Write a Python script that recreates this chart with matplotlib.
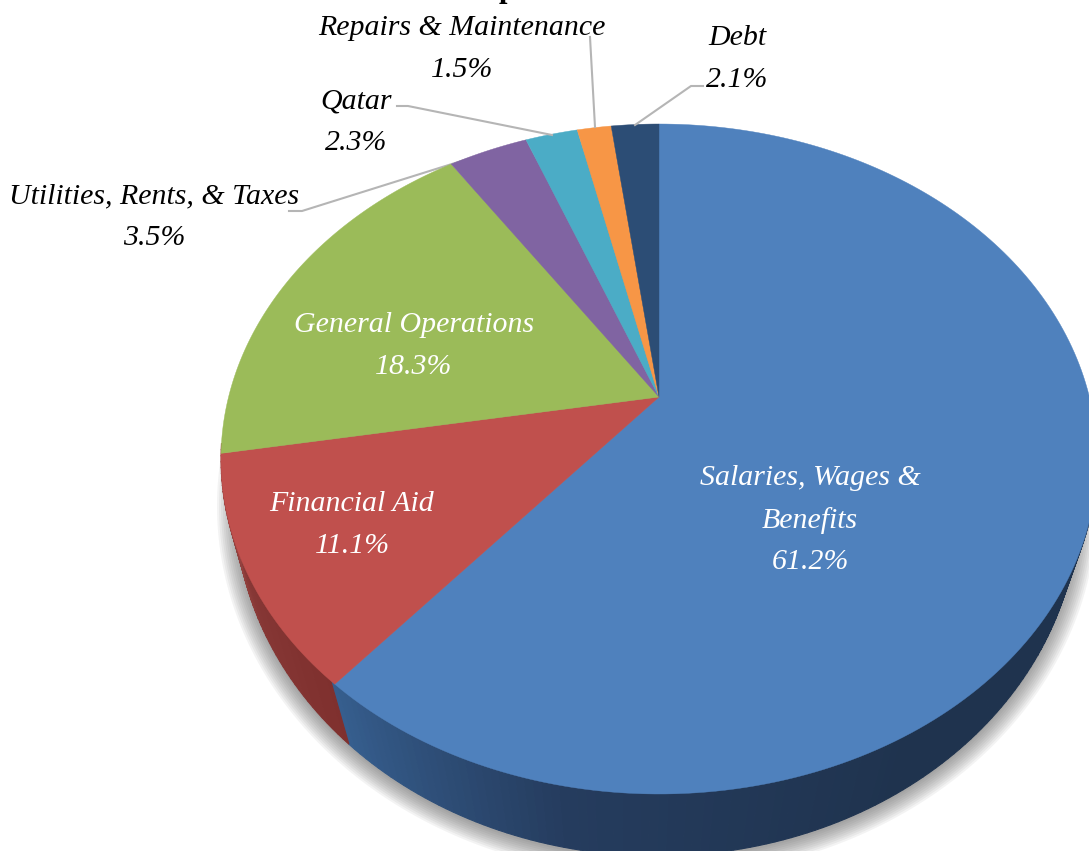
import matplotlib
matplotlib.use('Agg')
import matplotlib.pyplot as plt
import numpy as np
from matplotlib.patches import Polygon

categories = ['Salaries, Wages &\nBenefits', 'Financial Aid', 'General Operations',
              'Utilities, Rents, & Taxes', 'Qatar', 'Repairs & Maintenance', 'Debt']
shares = [61.2, 11.1, 18.3, 3.5, 2.3, 1.5, 2.1]
colors = ['#4F81BD', '#C0504D', '#9BBB59', '#8064A2', '#4BACC6', '#F79646', '#2C4D75']
label_colors = ['white', 'white', 'white', 'black', 'black', 'black', 'black']
label_pos = [(810, 520), (352, 525), (414, 346), (154, 217), (356, 122), (462, 49), (737, 59)]

# leader lines, label to slice
leaders = [None, None, None,
           [(289, 211), (302, 211), (522, 142)],
           [(397, 106), (408, 106), (552, 135)],
           [(590, 37), (595, 127)],
           [(703, 86), (691, 86), (635, 125)]]


def project(theta, cx, apex, top, bottom, rx):
    # perspective view of the unit circle, the apex is not the ellipse centre
    x = np.cos(np.radians(theta))
    t = -np.sin(np.radians(theta))
    k = -((bottom - apex) - (apex - top)) / ((bottom - apex) + (apex - top))
    a = (apex - top) * (1 - k)
    b = rx * np.sqrt(1 - k ** 2)
    d = 1 + k * t
    return cx + b * x / d, apex + a * t / d


TOP = dict(cx=659, apex=397, top=124, bottom=794, rx=438)
LOW = dict(cx=657, apex=451, top=150, bottom=856, rx=422)


def side_color(clock):
    # clock = degrees clockwise from 12 o'clock
    if clock > 220.3:
        r = np.interp(clock, [220, 240, 258], [0x7F, 0x86, 0x9C])
        g = np.interp(clock, [220, 240, 258], [0x30, 0x37, 0x48])
        b = np.interp(clock, [220, 240, 258], [0x2E, 0x35, 0x45])
    else:
        r = np.interp(clock, [150, 190, 220], [0x1F, 0x25, 0x36])
        g = np.interp(clock, [150, 190, 220], [0x33, 0x3C, 0x5E])
        b = np.interp(clock, [150, 190, 220], [0x4E, 0x5E, 0x8E])
    return (r / 255, g / 255, b / 255)


fig = plt.figure(figsize=(10.89, 8.51), dpi=100)
ax = fig.add_axes([0, 0, 1, 1])
wedges, _ = ax.pie(shares, colors=colors, startangle=90, counterclock=False)
ax.set_aspect('auto')
ax.set_xlim(0, 1089)
ax.set_ylim(851, 0)
ax.axis('off')

# soft shadow under the pie
for grow in np.arange(18, -2, -2):
    th = np.linspace(0, 360, 361)
    sx, sy = project(th, LOW['cx'], LOW['apex'] + 3, LOW['top'] + 3 - grow, LOW['bottom'] + 3 + grow, LOW['rx'] + grow)
    ax.add_patch(Polygon(np.column_stack([sx, sy]), facecolor='#505050', edgecolor='none', alpha=0.065, zorder=1))

# side wall
for clock in np.arange(105, 262, 1.0):
    th = np.array([90 - clock, 90 - clock - 1.0])
    x0, y0 = project(th, **TOP)
    x1, y1 = project(th, **LOW)
    quad = np.column_stack([np.r_[x0, x1[::-1]], np.r_[y0, y1[::-1]]])
    c = side_color(clock)
    ax.add_patch(Polygon(quad, facecolor=c, edgecolor=c, linewidth=0.8, zorder=2))

# top face, angles come from the pie wedges
for w, c in zip(wedges, colors):
    th = np.linspace(w.theta1, w.theta2, 200)
    x, y = project(th, **TOP)
    pts = np.column_stack([np.r_[TOP['cx'], x], np.r_[TOP['apex'], y]])
    ax.add_patch(Polygon(pts, facecolor=c, edgecolor=c, linewidth=0.3, zorder=3))
    w.remove()

for line in leaders:
    if line is not None:
        ax.plot([p[0] for p in line], [p[1] for p in line], color='#B5B5B5', linewidth=1.5, zorder=2.5 if line[0][0] == 289 else 4)

for name, share, pos, col in zip(categories, shares, label_pos, label_colors):
    ax.text(pos[0], pos[1], f'{name}\n{share}%', color=col, ha='center', va='center',
            family='Liberation Serif', style='italic', fontsize=21.5, linespacing=1.77, zorder=5)

# foot of the title that is cut off by the top edge
ax.text(507, -10, 'p', family='Liberation Serif', weight='bold', fontsize=22, ha='center', va='center', color='black', zorder=5)

fig.savefig('out.png', dpi=100)
